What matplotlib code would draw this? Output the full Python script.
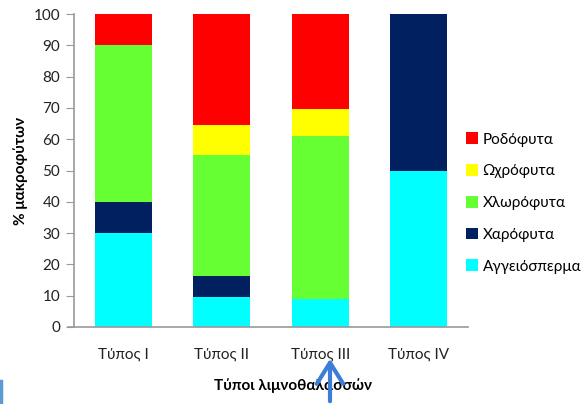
import matplotlib
matplotlib.use("Agg")
import matplotlib.pyplot as plt
import numpy as np
from matplotlib.patches import Patch

categories = ["Τύπος I", "Τύπος II", "Τύπος III", "Τύπος IV"]
series_names = ["Αγγειόσπερμα", "Χαρόφυτα", "Χλωρόφυτα", "Ωχρόφυτα", "Ροδόφυτα"]
aggeiosperma = [30, 9.7, 8.8, 50]
charofyta = [10, 6.5, 0, 50]
chlorofyta = [50, 38.7, 52.2, 0]
ochrofyta = [0, 9.5, 8.6, 0]
rodofyta = [10, 35.6, 30.4, 0]
colors = ["#00FFFF", "#002060", "#66FF33", "#FFFF00", "#FF0000"]
yticks = [0, 10, 20, 30, 40, 50, 60, 70, 80, 90, 100]

plt.rcParams['font.family'] = ['Lato', 'DejaVu Sans']

fig = plt.figure(figsize=(5.84, 4.04), dpi=100)
ax = fig.add_axes([74/584, 1-327/404, 394/584, 313/404])

x = np.arange(len(categories))
data = [aggeiosperma, charofyta, chlorofyta, ochrofyta, rodofyta]
bottom = np.zeros(len(categories))
for vals, c in zip(data, colors):
    ax.bar(x, vals, bottom=bottom, width=0.58, color=c, edgecolor='none')
    bottom += np.array(vals)

ax.set_xlim(-0.5, 3.5)
ax.set_ylim(0, 100)
ax.set_yticks(yticks)
ax.set_xticks(x)
ax.set_xticklabels(categories, fontsize=11, color='#222222')
ax.tick_params(axis='x', length=0, pad=15)
ax.tick_params(axis='y', length=6, color='#999999', labelsize=11, labelcolor='#222222', pad=4)
for s in ['top', 'right']:
    ax.spines[s].set_visible(False)
for s in ['left', 'bottom']:
    ax.spines[s].set_color('#999999')
    ax.spines[s].set_linewidth(1.2)
ax.spines['bottom'].set_bounds(-0.56, 3.5)
ax.spines['bottom'].set_clip_on(False)

ax.set_ylabel("% μακροφύτων", fontsize=11, fontweight='bold', labelpad=4)

fig.text(293/584, 1-386/404, "Τύποι λιμνοθαλασσών", fontsize=11, fontweight='bold',
         ha='center', va='center')

handles = [Patch(facecolor=c, edgecolor='none') for c in colors[::-1]]
leg = fig.legend(handles, series_names[::-1], loc='center left',
                 bbox_to_anchor=(452/584, 1-203/404), frameon=False, fontsize=11,
                 handlelength=0.8, handleheight=0.8, handletextpad=0.3,
                 labelspacing=1.15)

# blue annotation arrow and line
fig.add_artist(matplotlib.patches.FancyArrowPatch(
    (330/584, 0.0), (330/584, 1-356/404), transform=fig.transFigure,
    arrowstyle='->,head_length=4,head_width=2.5', color='#3B7DD8', lw=3,
    mutation_scale=3.8, zorder=5))
fig.add_artist(matplotlib.lines.Line2D([1/584, 1/584], [0, 1-381/404],
                                       transform=fig.transFigure, color='#5B9BD5', lw=2.5))

fig.savefig("out.png", dpi=100)
